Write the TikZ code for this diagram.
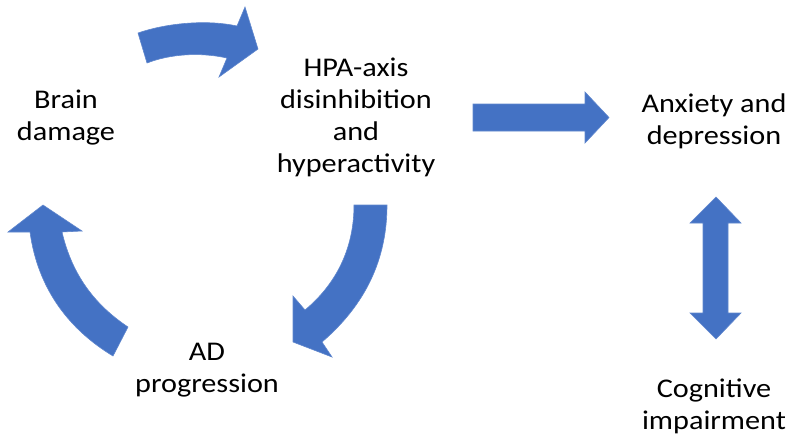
\documentclass[tikz,border=0pt]{standalone}
\usepackage{fontspec}
\setmainfont[FakeStretch=1.12]{Carlito}
\definecolor{officeblue}{HTML}{4472C4}
\tikzset{
  blockarrow/.style={fill=officeblue, draw=officeblue!85!white, line width=0.6pt, line join=miter},
  lbl/.style={align=center, inner sep=0pt, font=\fontsize{27}{32}\selectfont, text=black}
}
\begin{document}
\begin{tikzpicture}[x=1pt,y=-1pt]
\useasboundingbox (0,0) rectangle (797,440);
% labels
\node[lbl] (brain) at (66,118) {Brain\\damage};
\node[lbl] (hpa) at (356,117.5) {HPA-axis\\disinhibition\\and\\hyperactivity};
\node[lbl] (ad) at (207,370) {AD\\progression};
\node[lbl] (anx) at (714,121) {Anxiety and\\depression};
\node[lbl] (cog) at (714,406) {Cognitive\\impairment};
% curved arrow: Brain damage -> HPA
\draw[blockarrow] (138,33) .. controls (170,22) and (210,20) .. (237,26)
  -- (245,7) -- (258,49) -- (219,77) -- (227,58)
  .. controls (200,52) and (170,54) .. (147,63) -- cycle;
% curved arrow: HPA -> AD progression
\draw[blockarrow] (354,205) .. controls (354,250) and (335,285) .. (305,310)
  -- (293,296) -- (293,342) -- (332,357) -- (322,342)
  .. controls (365,305) and (387,260) .. (387,205) -- cycle;
% curved arrow: AD progression -> Brain damage
\draw[blockarrow] (43,205) -- (82,231) -- (62,232)
  .. controls (72,275) and (95,305) .. (128,327)
  -- (113,356)
  .. controls (70,330) and (38,290) .. (30,232)
  -- (8,232) -- cycle;
% straight arrow: HPA -> Anxiety
\draw[blockarrow] (473,104) -- (585,104) -- (585,92) -- (609,117.5) -- (585,143) -- (585,131) -- (473,131) -- cycle;
% double arrow: Anxiety <-> Cognitive
\draw[blockarrow] (716,197) -- (741,223) -- (728,223) -- (728,313) -- (741,313) -- (716,339)
  -- (690,313) -- (703,313) -- (703,223) -- (690,223) -- cycle;
\end{tikzpicture}
\end{document}
